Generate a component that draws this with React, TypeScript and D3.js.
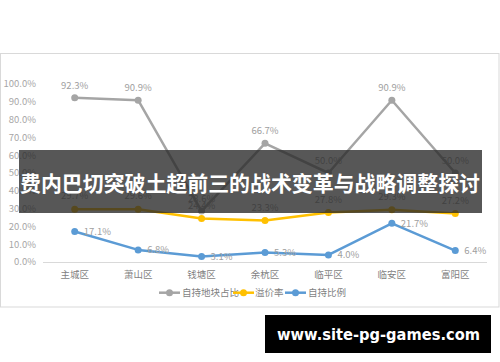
import React from "react";
import * as d3 from "d3";

const categories = ["主城区", "萧山区", "钱塘区", "余杭区", "临平区", "临安区", "富阳区"];
const selfHeldLandShare = [92.3, 90.9, 28.6, 66.7, 50.0, 90.9, 50.0];
const premiumRate = [29.7, 29.6, 24.4, 23.3, 27.8, 29.3, 27.2];
const selfHeldRatio = [17.1, 6.8, 3.1, 5.3, 4.0, 21.7, 6.4];
const yTicks = [0, 10, 20, 30, 40, 50, 60, 70, 80, 90, 100];
const seriesNames = ["自持地块占比", "溢价率", "自持比例"];
const bannerTitle = "费内巴切突破土超前三的战术变革与战略调整探讨";
const watermark = "www.site-pg-games.com";

const W = 500;
const H = 362;
const colors = ["#a5a5a5", "#ffc000", "#5b9bd5"];
const font = "'Noto Sans CJK SC', 'Noto Sans', sans-serif";

export default function App() {
  const x = d3.scaleBand<string>().domain(categories).range([43, 487]);
  const y = d3.scaleLinear().domain([0, 100]).range([262, 84]);
  const cx = (c: string) => (x(c) as number) + x.bandwidth() / 2;
  const line = d3
    .line<number>()
    .x((_, i) => cx(categories[i]))
    .y((d) => y(d));

  const series = [selfHeldLandShare, premiumRate, selfHeldRatio];

  return (
    <div style={{ position: "fixed", left: 0, top: 0, width: W, height: H, background: "#fff" }}>
      <svg width={W} height={H} style={{ display: "block" }} fontFamily={font}>
        <rect x={0.5} y={53.5} width={498.5} height={253.5} fill="#fff" stroke="#d9d9d9" strokeWidth={1} />
        {yTicks.map((t) => (
          <text key={t} x={36} y={y(t)} dy="0.35em" textAnchor="end" fontSize={9.5} fill="#a6a6a6">
            {t.toFixed(1)}%
          </text>
        ))}
        <line x1={43} x2={487} y1={y(0) + 0.5} y2={y(0) + 0.5} stroke="#d9d9d9" strokeWidth={1} />
        {categories.map((c) => (
          <text key={c} x={cx(c)} y={278} textAnchor="middle" fontSize={9.5} fill="#7f7f7f">
            {c}
          </text>
        ))}
        {series.map((s, si) => (
          <g key={si}>
            <path d={line(s) || ""} fill="none" stroke={colors[si]} strokeWidth={2.5} strokeLinejoin="round" />
            {s.map((v, i) => (
              <circle key={i} cx={cx(categories[i])} cy={y(v)} r={3.5} fill={colors[si]} />
            ))}
          </g>
        ))}
        {selfHeldLandShare.map((v, i) => (
          <text key={"g" + i} x={cx(categories[i])} y={y(v) - 9} textAnchor="middle" fontSize={9.5} fill="#a0a0a0">
            {v.toFixed(1)}%
          </text>
        ))}
        {premiumRate.map((v, i) => (
          <text key={"y" + i} x={cx(categories[i])} y={y(v) - 10} textAnchor="middle" fontSize={9.5} fill="#a0a0a0">
            {v.toFixed(1)}%
          </text>
        ))}
        {selfHeldRatio.map((v, i) => (
          <text key={"b" + i} x={cx(categories[i]) + 9} y={y(v)} dy="0.35em" textAnchor="start" fontSize={9.5} fill="#a0a0a0">
            {v.toFixed(1)}%
          </text>
        ))}
        {(() => {
          const items = [
            { x0: 159, tx: 182 },
            { x0: 233, tx: 255 },
            { x0: 285, tx: 308 },
          ];
          return items.map((it, i) => (
            <g key={i}>
              <line x1={it.x0} x2={it.x0 + 21} y1={292.7} y2={292.7} stroke={colors[i]} strokeWidth={2.5} />
              <circle cx={it.x0 + 10.5} cy={292.7} r={3.5} fill={colors[i]} />
              <text x={it.tx} y={292.7} dy="0.35em" fontSize={9.5} fill="#7f7f7f">
                {seriesNames[i]}
              </text>
            </g>
          ));
        })()}
        <rect x={19} y={150} width={463} height={63} fill="rgba(40,40,40,0.78)" />
        <text
          x={20}
          y={191}
          textAnchor="start"
          fontSize={21}
          fontWeight="bold"
          fill="#fff"
          textLength={460}
          lengthAdjust="spacingAndGlyphs"
        >
          {bannerTitle}
        </text>
        <rect x={265} y={315} width={226} height={38} fill="#000" />
        <text
          x={277}
          y={340}
          textAnchor="start"
          fontSize={15}
          fontWeight="bold"
          fill="#fff"
          fontFamily="'DejaVu Sans', sans-serif"
          textLength={203}
          lengthAdjust="spacingAndGlyphs"
        >
          {watermark}
        </text>
      </svg>
    </div>
  );
}
